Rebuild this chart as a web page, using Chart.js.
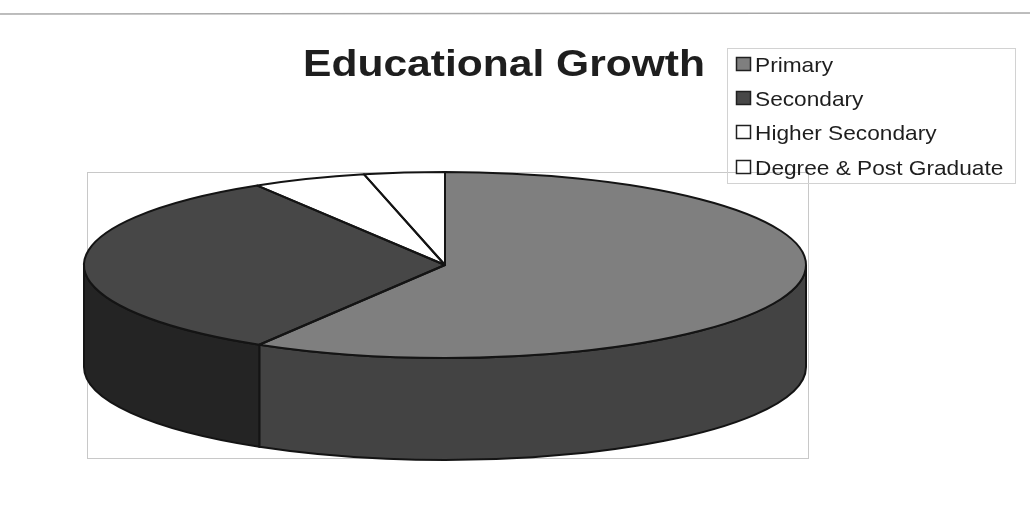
<!DOCTYPE html>
<html>
<head>
<meta charset="utf-8">
<title>Educational Growth</title>
<script src="https://cdn.jsdelivr.net/npm/chart.js@4.4.0/dist/chart.umd.min.js"></script>
<style>
  html, body { margin: 0; padding: 0; background: #fff; }
  #wrap { width: 1030px; height: 527px; }
</style>
</head>
<body>
<div id="wrap"><canvas id="pieChart" width="1030" height="527"></canvas></div>
<script>
// chart data
const chartTitle = "Educational Growth";
const categories = ["Primary", "Secondary", "Higher Secondary", "Degree & Post Graduate"];
const shares = [58.6, 32.7, 5.1, 3.6];
const topColors = ["#7f7f7f", "#474747", "#ffffff", "#ffffff"];
const sideColors = ["#434343", "#242424", "#e6e6e6", "#e6e6e6"];

// look of the fake 3d pie (Excel style)
const look = {
  stretchX: 3.61,   // flat circle -> wide ellipse
  stretchY: 0.93,
  depth: 102,
  outline: "#141414"
};

// tilt the pie and add the side wall
const pie3d = {
  id: "pie3d",
  beforeDraw(chart) {
    const ctx = chart.ctx;
    ctx.save();
    ctx.fillStyle = "#ffffff";
    ctx.fillRect(0, 0, chart.width, chart.height);
    // scan line at the very top
    ctx.strokeStyle = "#a8a8a8";
    ctx.lineWidth = 1.5;
    ctx.beginPath();
    ctx.moveTo(0, 14);
    ctx.lineTo(chart.width, 13);
    ctx.stroke();
    // plot area frame
    ctx.strokeStyle = "#c8c8c8";
    ctx.lineWidth = 1;
    ctx.strokeRect(87.5, 172.5, 721, 286);
    ctx.restore();
  },
  beforeDatasetsDraw(chart) {
    const ctx = chart.ctx;
    const arcs = chart.getDatasetMeta(0).data;
    ctx.save();
    ctx.lineWidth = 2;
    ctx.strokeStyle = look.outline;
    arcs.forEach((arc, i) => {
      const rx = arc.outerRadius * look.stretchX;
      const ry = arc.outerRadius * look.stretchY;
      // only the front half (0..PI) of the wall is seen
      const s = Math.max(arc.startAngle, 0);
      const e = Math.min(arc.endAngle, Math.PI);
      if (e <= s) return;
      ctx.beginPath();
      ctx.ellipse(arc.x, arc.y, rx, ry, 0, s, e);
      ctx.lineTo(arc.x + rx * Math.cos(e), arc.y + ry * Math.sin(e) + look.depth);
      ctx.ellipse(arc.x, arc.y + look.depth, rx, ry, 0, e, s, true);
      ctx.closePath();
      ctx.fillStyle = sideColors[i];
      ctx.fill();
      ctx.stroke();
    });
    ctx.restore();

    // squash the library's flat pie into the top face
    const c = arcs[0];
    ctx.save();
    ctx.translate(c.x, c.y);
    ctx.scale(look.stretchX, look.stretchY);
    ctx.translate(-c.x, -c.y);
  },
  afterDatasetsDraw(chart) {
    const ctx = chart.ctx;
    ctx.restore();
    const arcs = chart.getDatasetMeta(0).data;
    ctx.save();
    ctx.lineWidth = 2;
    ctx.strokeStyle = look.outline;
    ctx.lineJoin = "round";
    arcs.forEach(arc => {
      const rx = arc.outerRadius * look.stretchX;
      const ry = arc.outerRadius * look.stretchY;
      ctx.beginPath();
      ctx.moveTo(arc.x, arc.y);
      ctx.ellipse(arc.x, arc.y, rx, ry, 0, arc.startAngle, arc.endAngle);
      ctx.closePath();
      ctx.stroke();
    });
    ctx.restore();
  },
  afterDraw(chart) {
    const ctx = chart.ctx;
    ctx.save();
    // title
    ctx.fillStyle = "#1e1e1e";
    ctx.textBaseline = "alphabetic";
    ctx.font = "bold 36px 'Liberation Sans', Arial, sans-serif";
    let w = ctx.measureText(chartTitle).width;
    ctx.save();
    ctx.translate(303, 76);
    ctx.scale(402 / w, 1);
    ctx.fillText(chartTitle, 0, 0);
    ctx.restore();

    // legend box
    ctx.strokeStyle = "#d2d2d2";
    ctx.lineWidth = 1;
    ctx.strokeRect(727.5, 48.5, 288, 135);
    const ds = chart.data.datasets[0];
    ctx.font = "21px 'Liberation Sans', Arial, sans-serif";
    const rowY = [72, 106, 140, 175];
    chart.data.labels.forEach((label, i) => {
      const y = rowY[i];
      ctx.fillStyle = ds.backgroundColor[i];
      ctx.fillRect(736, y - 15, 15, 14);
      ctx.strokeStyle = "#202020";
      ctx.lineWidth = 1.5;
      ctx.strokeRect(736.5, y - 14.5, 14, 13);
      ctx.fillStyle = "#1e1e1e";
      ctx.save();
      ctx.translate(755, y);
      ctx.scale(1.08, 1);
      ctx.fillText(label, 0, 0);
      ctx.restore();
    });
    ctx.restore();
  }
};

const ctx = document.getElementById("pieChart").getContext("2d");
const chart = new Chart(ctx, {
  type: "pie",
  data: {
    labels: categories,
    datasets: [{
      data: shares,
      backgroundColor: topColors,
      borderWidth: 0,
      hoverOffset: 0,
      clip: false
    }]
  },
  options: {
    responsive: false,
    animation: false,
    events: [],
    layout: {
      padding: { left: 345, right: 485, top: 165, bottom: 162 }
    },
    plugins: {
      legend: { display: false },
      title: { display: false },
      tooltip: { enabled: false }
    }
  },
  plugins: [pie3d]
});
</script>
</body>
</html>
